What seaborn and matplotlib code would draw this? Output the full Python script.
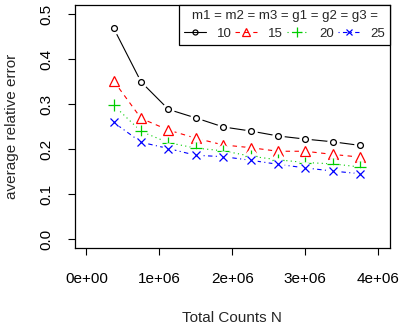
import numpy as np
import pandas as pd
import matplotlib
matplotlib.use("Agg")
import matplotlib.pyplot as plt
from matplotlib.lines import Line2D
import seaborn as sns

# ---- data ----
total_counts = [375000, 750000, 1125000, 1500000, 1875000,
                2250000, 2625000, 3000000, 3375000, 3750000]
err_10 = [0.468, 0.349, 0.288, 0.269, 0.249, 0.240, 0.229, 0.222, 0.216, 0.208]
err_15 = [0.351, 0.268, 0.242, 0.224, 0.209, 0.203, 0.195, 0.195, 0.188, 0.182]
err_20 = [0.297, 0.239, 0.214, 0.202, 0.196, 0.184, 0.176, 0.170, 0.167, 0.160]
err_25 = [0.259, 0.215, 0.201, 0.186, 0.183, 0.175, 0.166, 0.158, 0.151, 0.145]
series_labels = ["10", "15", "20", "25"]
x_ticks = [0, 1e6, 2e6, 3e6, 4e6]
x_tick_labels = ["0e+00", "1e+06", "2e+06", "3e+06", "4e+06"]
y_ticks = [0.0, 0.1, 0.2, 0.3, 0.4, 0.5]
y_tick_labels = ["0.0", "0.1", "0.2", "0.3", "0.4", "0.5"]

sns.set_style("ticks")
plt.rcParams["font.family"] = ["Liberation Sans", "DejaVu Sans"]

fig = plt.figure(figsize=(4.02, 3.26), dpi=100)
ax = fig.add_axes([74.7 / 402, 1 - 248 / 326, (390 - 74.7) / 402, (248 - 5) / 326])

styles = [
    dict(color="black", dashes=(None, None), marker="o", ms=4.2, lms=3.6),
    dict(color="#ff0000", dashes=(4, 4), marker="^", ms=6.5, lms=5.6),
    dict(color="#00cd00", dashes=(1, 3), marker="+", ms=8, lms=6.5),
    dict(color="#0000ff", dashes=(1, 3, 4, 3), marker="x", ms=6, lms=5.0),
]
all_series = [err_10, err_15, err_20, err_25]

handles = []
for i, (vals, st) in enumerate(zip(all_series, styles)):
    df = pd.DataFrame({"N": total_counts, "err": vals})
    z = 2 + 3 * i
    sns.lineplot(data=df, x="N", y="err", color=st["color"], lw=0.8,
                 ax=ax, zorder=z)
    ln = ax.get_lines()[-1]
    if st["dashes"][0] is not None:
        ln.set_dashes(st["dashes"])
    # white gaps around points (R type="b")
    sns.lineplot(data=df, x="N", y="err", color="white", lw=0, marker="o",
                 ms=9, mec="white", mew=0, ax=ax, zorder=z + 1)
    sns.lineplot(data=df, x="N", y="err", color=st["color"], lw=0,
                 marker=st["marker"], ms=st["ms"], mfc="none",
                 mec=st["color"], mew=0.9, ax=ax, zorder=z + 2)
    h = Line2D([], [], color=st["color"], lw=0.8, marker=st["marker"],
               ms=st["lms"], mfc="none", mec=st["color"], mew=0.9)
    if st["dashes"][0] is not None:
        h.set_dashes(st["dashes"])
    handles.append(h)

ax.set_xlim(-0.16e6, 4.16e6)
ax.set_ylim(-0.02, 0.52)
ax.set_xticks(x_ticks)
ax.set_xticklabels(x_tick_labels)
ax.set_yticks(y_ticks)
ax.set_yticklabels(y_tick_labels, rotation=90, va="center")
ax.tick_params(axis="both", direction="out", length=5, width=0.8,
               labelsize=11, colors="black")
ax.tick_params(axis="x", pad=12)
ax.tick_params(axis="y", pad=10)
for s in ax.spines.values():
    s.set_visible(True)
    s.set_color("black")
    s.set_linewidth(0.9)

ax.set_xlabel("Total Counts N", fontsize=11, labelpad=18)
ax.set_ylabel("average relative error", fontsize=11, labelpad=15)

leg = ax.legend(handles, series_labels, title="m1 = m2 = m3 = g1 = g2 = g3 =",
                ncol=4, loc="upper right", borderaxespad=0, fancybox=False,
                frameon=True, fontsize=9.5, title_fontsize=9.5,
                handlelength=1.65, handletextpad=0.8, columnspacing=0.3,
                borderpad=0.4, labelspacing=0.38)
leg.get_frame().set_edgecolor("black")
leg.get_frame().set_linewidth(0.9)
leg.get_frame().set_alpha(1)

fig.savefig("out.png", dpi=100)
